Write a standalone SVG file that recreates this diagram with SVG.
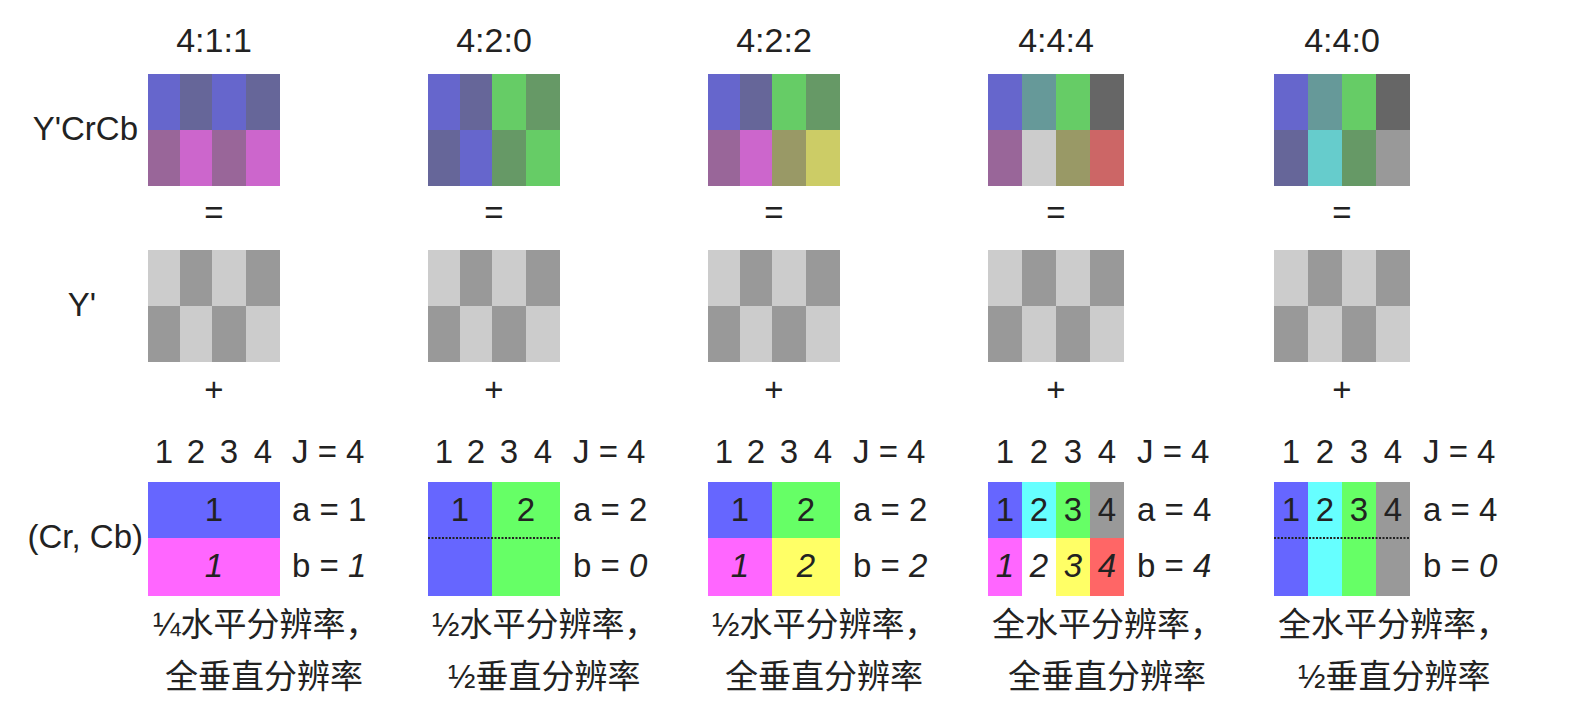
<svg xmlns="http://www.w3.org/2000/svg" width="1578" height="708" viewBox="0 0 1578 708">
<style>
text{font-family:"Liberation Sans","Noto Sans CJK SC",sans-serif;fill:#222;font-size:33px}
.t{font-size:34px}
.m{text-anchor:middle}
.e{text-anchor:end}
.i{font-style:italic}
.zh{font-size:33px}
.dot{stroke:#222;stroke-width:2;stroke-dasharray:2 1.5;fill:none}
</style>
<rect width="1578" height="708" fill="#fff"/>
<g id="row-labels">
<text x="138" y="140" class="e">Y'CrCb</text>
<text x="82" y="316" class="m">Y'</text>
<text x="143" y="548" class="e">(Cr, Cb)</text>
</g>
<g id="connectors"/>

<g id="panel-411">
<text x="214" y="52" class="m t">4:1:1</text>
<rect x="148" y="74" width="32" height="56" fill="#6666cc"/>
<rect x="180" y="74" width="32" height="56" fill="#666699"/>
<rect x="212" y="74" width="34" height="56" fill="#6666cc"/>
<rect x="246" y="74" width="34" height="56" fill="#666699"/>
<rect x="148" y="130" width="32" height="56" fill="#996699"/>
<rect x="180" y="130" width="32" height="56" fill="#cc66cc"/>
<rect x="212" y="130" width="34" height="56" fill="#996699"/>
<rect x="246" y="130" width="34" height="56" fill="#cc66cc"/>
<text x="214" y="224" class="m">=</text>
<rect x="148" y="250" width="32" height="56" fill="#cccccc"/>
<rect x="180" y="250" width="32" height="56" fill="#999999"/>
<rect x="212" y="250" width="34" height="56" fill="#cccccc"/>
<rect x="246" y="250" width="34" height="56" fill="#999999"/>
<rect x="148" y="306" width="32" height="56" fill="#999999"/>
<rect x="180" y="306" width="32" height="56" fill="#cccccc"/>
<rect x="212" y="306" width="34" height="56" fill="#999999"/>
<rect x="246" y="306" width="34" height="56" fill="#cccccc"/>
<text x="214" y="401" class="m">+</text>
<text x="164" y="463" class="m">1</text>
<text x="196" y="463" class="m">2</text>
<text x="229" y="463" class="m">3</text>
<text x="263" y="463" class="m">4</text>
<text x="292" y="463">J = 4</text>
<rect x="148" y="482" width="132" height="56" fill="#6666ff"/>
<rect x="148" y="538" width="132" height="58" fill="#ff66ff"/>
<text x="214" y="521" class="m">1</text>
<text x="214" y="577" class="m i">1</text>
<text x="292" y="521">a = 1</text>
<text x="292" y="577">b = <tspan class="i">1</tspan></text>
<text x="153" y="636" class="zh">¼水平分辨率，</text>
<text x="165" y="688" class="zh">全垂直分辨率</text>
</g>

<g id="panel-420">
<text x="494" y="52" class="m t">4:2:0</text>
<rect x="428" y="74" width="32" height="56" fill="#6666cc"/>
<rect x="460" y="74" width="32" height="56" fill="#666699"/>
<rect x="492" y="74" width="34" height="56" fill="#66cc66"/>
<rect x="526" y="74" width="34" height="56" fill="#669966"/>
<rect x="428" y="130" width="32" height="56" fill="#666699"/>
<rect x="460" y="130" width="32" height="56" fill="#6666cc"/>
<rect x="492" y="130" width="34" height="56" fill="#669966"/>
<rect x="526" y="130" width="34" height="56" fill="#66cc66"/>
<text x="494" y="224" class="m">=</text>
<rect x="428" y="250" width="32" height="56" fill="#cccccc"/>
<rect x="460" y="250" width="32" height="56" fill="#999999"/>
<rect x="492" y="250" width="34" height="56" fill="#cccccc"/>
<rect x="526" y="250" width="34" height="56" fill="#999999"/>
<rect x="428" y="306" width="32" height="56" fill="#999999"/>
<rect x="460" y="306" width="32" height="56" fill="#cccccc"/>
<rect x="492" y="306" width="34" height="56" fill="#999999"/>
<rect x="526" y="306" width="34" height="56" fill="#cccccc"/>
<text x="494" y="401" class="m">+</text>
<text x="444" y="463" class="m">1</text>
<text x="476" y="463" class="m">2</text>
<text x="509" y="463" class="m">3</text>
<text x="543" y="463" class="m">4</text>
<text x="573" y="463">J = 4</text>
<rect x="428" y="482" width="64" height="114" fill="#6666ff"/>
<rect x="492" y="482" width="68" height="114" fill="#66ff66"/>
<line x1="428" y1="538" x2="560" y2="538" class="dot"/>
<text x="460" y="521" class="m">1</text>
<text x="526" y="521" class="m">2</text>
<text x="573" y="521">a = 2</text>
<text x="573" y="577">b = <tspan class="i">0</tspan></text>
<text x="432" y="636" class="zh">½水平分辨率，</text>
<text x="448" y="688" class="zh">½垂直分辨率</text>
</g>

<g id="panel-422">
<text x="774" y="52" class="m t">4:2:2</text>
<rect x="708" y="74" width="32" height="56" fill="#6666cc"/>
<rect x="740" y="74" width="32" height="56" fill="#666699"/>
<rect x="772" y="74" width="34" height="56" fill="#66cc66"/>
<rect x="806" y="74" width="34" height="56" fill="#669966"/>
<rect x="708" y="130" width="32" height="56" fill="#996699"/>
<rect x="740" y="130" width="32" height="56" fill="#cc66cc"/>
<rect x="772" y="130" width="34" height="56" fill="#999966"/>
<rect x="806" y="130" width="34" height="56" fill="#cccc66"/>
<text x="774" y="224" class="m">=</text>
<rect x="708" y="250" width="32" height="56" fill="#cccccc"/>
<rect x="740" y="250" width="32" height="56" fill="#999999"/>
<rect x="772" y="250" width="34" height="56" fill="#cccccc"/>
<rect x="806" y="250" width="34" height="56" fill="#999999"/>
<rect x="708" y="306" width="32" height="56" fill="#999999"/>
<rect x="740" y="306" width="32" height="56" fill="#cccccc"/>
<rect x="772" y="306" width="34" height="56" fill="#999999"/>
<rect x="806" y="306" width="34" height="56" fill="#cccccc"/>
<text x="774" y="401" class="m">+</text>
<text x="724" y="463" class="m">1</text>
<text x="756" y="463" class="m">2</text>
<text x="789" y="463" class="m">3</text>
<text x="823" y="463" class="m">4</text>
<text x="853" y="463">J = 4</text>
<rect x="708" y="482" width="64" height="56" fill="#6666ff"/>
<rect x="772" y="482" width="68" height="56" fill="#66ff66"/>
<rect x="708" y="538" width="64" height="58" fill="#ff66ff"/>
<rect x="772" y="538" width="68" height="58" fill="#ffff66"/>
<text x="740" y="521" class="m">1</text>
<text x="806" y="521" class="m">2</text>
<text x="740" y="577" class="m i">1</text>
<text x="806" y="577" class="m i">2</text>
<text x="853" y="521">a = 2</text>
<text x="853" y="577">b = <tspan class="i">2</tspan></text>
<text x="712" y="636" class="zh">½水平分辨率，</text>
<text x="725" y="688" class="zh">全垂直分辨率</text>
</g>

<g id="panel-444">
<text x="1056" y="52" class="m t">4:4:4</text>
<rect x="988" y="74" width="34" height="56" fill="#6666cc"/>
<rect x="1022" y="74" width="34" height="56" fill="#669999"/>
<rect x="1056" y="74" width="34" height="56" fill="#66cc66"/>
<rect x="1090" y="74" width="34" height="56" fill="#666666"/>
<rect x="988" y="130" width="34" height="56" fill="#996699"/>
<rect x="1022" y="130" width="34" height="56" fill="#cccccc"/>
<rect x="1056" y="130" width="34" height="56" fill="#999966"/>
<rect x="1090" y="130" width="34" height="56" fill="#cc6666"/>
<text x="1056" y="224" class="m">=</text>
<rect x="988" y="250" width="34" height="56" fill="#cccccc"/>
<rect x="1022" y="250" width="34" height="56" fill="#999999"/>
<rect x="1056" y="250" width="34" height="56" fill="#cccccc"/>
<rect x="1090" y="250" width="34" height="56" fill="#999999"/>
<rect x="988" y="306" width="34" height="56" fill="#999999"/>
<rect x="1022" y="306" width="34" height="56" fill="#cccccc"/>
<rect x="1056" y="306" width="34" height="56" fill="#999999"/>
<rect x="1090" y="306" width="34" height="56" fill="#cccccc"/>
<text x="1056" y="401" class="m">+</text>
<text x="1005" y="463" class="m">1</text>
<text x="1039" y="463" class="m">2</text>
<text x="1073" y="463" class="m">3</text>
<text x="1107" y="463" class="m">4</text>
<text x="1137" y="463">J = 4</text>
<rect x="988" y="482" width="34" height="56" fill="#6666ff"/>
<rect x="1022" y="482" width="34" height="56" fill="#66ffff"/>
<rect x="1056" y="482" width="34" height="56" fill="#66ff66"/>
<rect x="1090" y="482" width="34" height="56" fill="#999999"/>
<rect x="988" y="538" width="34" height="58" fill="#ff66ff"/>
<rect x="1022" y="538" width="34" height="58" fill="#ffffff"/>
<rect x="1056" y="538" width="34" height="58" fill="#ffff66"/>
<rect x="1090" y="538" width="34" height="58" fill="#ff6666"/>
<text x="1005" y="521" class="m">1</text>
<text x="1039" y="521" class="m">2</text>
<text x="1073" y="521" class="m">3</text>
<text x="1107" y="521" class="m">4</text>
<text x="1005" y="577" class="m i">1</text>
<text x="1039" y="577" class="m i">2</text>
<text x="1073" y="577" class="m i">3</text>
<text x="1107" y="577" class="m i">4</text>
<text x="1137" y="521">a = 4</text>
<text x="1137" y="577">b = <tspan class="i">4</tspan></text>
<text x="992" y="636" class="zh">全水平分辨率，</text>
<text x="1008" y="688" class="zh">全垂直分辨率</text>
</g>

<g id="panel-440">
<text x="1342" y="52" class="m t">4:4:0</text>
<rect x="1274" y="74" width="34" height="56" fill="#6666cc"/>
<rect x="1308" y="74" width="34" height="56" fill="#669999"/>
<rect x="1342" y="74" width="34" height="56" fill="#66cc66"/>
<rect x="1376" y="74" width="34" height="56" fill="#666666"/>
<rect x="1274" y="130" width="34" height="56" fill="#666699"/>
<rect x="1308" y="130" width="34" height="56" fill="#66cccc"/>
<rect x="1342" y="130" width="34" height="56" fill="#669966"/>
<rect x="1376" y="130" width="34" height="56" fill="#999999"/>
<text x="1342" y="224" class="m">=</text>
<rect x="1274" y="250" width="34" height="56" fill="#cccccc"/>
<rect x="1308" y="250" width="34" height="56" fill="#999999"/>
<rect x="1342" y="250" width="34" height="56" fill="#cccccc"/>
<rect x="1376" y="250" width="34" height="56" fill="#999999"/>
<rect x="1274" y="306" width="34" height="56" fill="#999999"/>
<rect x="1308" y="306" width="34" height="56" fill="#cccccc"/>
<rect x="1342" y="306" width="34" height="56" fill="#999999"/>
<rect x="1376" y="306" width="34" height="56" fill="#cccccc"/>
<text x="1342" y="401" class="m">+</text>
<text x="1291" y="463" class="m">1</text>
<text x="1325" y="463" class="m">2</text>
<text x="1359" y="463" class="m">3</text>
<text x="1393" y="463" class="m">4</text>
<text x="1423" y="463">J = 4</text>
<rect x="1274" y="482" width="34" height="114" fill="#6666ff"/>
<rect x="1308" y="482" width="34" height="114" fill="#66ffff"/>
<rect x="1342" y="482" width="34" height="114" fill="#66ff66"/>
<rect x="1376" y="482" width="34" height="114" fill="#999999"/>
<line x1="1274" y1="538" x2="1410" y2="538" class="dot"/>
<text x="1291" y="521" class="m">1</text>
<text x="1325" y="521" class="m">2</text>
<text x="1359" y="521" class="m">3</text>
<text x="1393" y="521" class="m">4</text>
<text x="1423" y="521">a = 4</text>
<text x="1423" y="577">b = <tspan class="i">0</tspan></text>
<text x="1278" y="636" class="zh">全水平分辨率，</text>
<text x="1298" y="688" class="zh">½垂直分辨率</text>
</g>
</svg>
